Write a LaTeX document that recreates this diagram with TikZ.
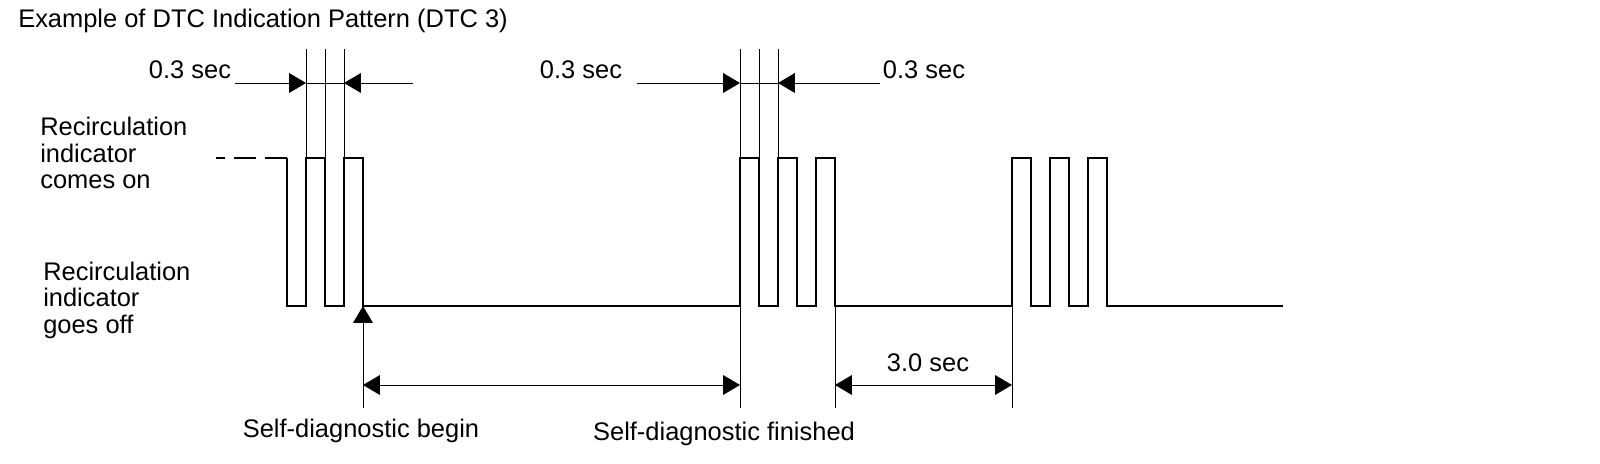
\documentclass[tikz,border=0pt]{standalone}
\usepackage{fontspec}
\setmainfont{Liberation Sans}
\usetikzlibrary{arrows.meta, positioning, calc}

\begin{document}
\begin{tikzpicture}[
		x=0.025cm, y=-0.025cm,
		every node/.style={font=\fontsize{18.1}{18.9}\selectfont, inner sep=0pt},
		lbl/.style={align=left, anchor=west},
		wave/.style={line width=1.4pt},
		guide/.style={line width=0.7pt},
		dim/.style={line width=0.7pt, -{Triangle[length=12pt,width=14pt]}},
		dimboth/.style={line width=0.7pt, {Triangle[length=12pt,width=14pt]}-{Triangle[length=12pt,width=14pt]}}
	]
	\useasboundingbox (0,0) rectangle (1600,464);

	% texts
	\node[anchor=west] (title) at (18,21) {Example of DTC Indication Pattern (DTC 3)};
	\node (sec1) at (190,70) {0.3 sec};
	\node (sec2) at (581,70) {0.3 sec};
	\node (sec3) at (924,70) {0.3 sec};
	\node[lbl] (on) at (40,153) {Recirculation\\indicator\\comes on};
	\node[lbl] (off) at (43,300) {Recirculation\\indicator\\goes off};
	\node (begin) at (361,431) {Self-diagnostic begin};
	\node (finish) at (724,434) {Self-diagnostic finished};
	\node (wait) at (928,363) {3.0 sec};

	% signal
	\coordinate (dashA) at (216,158);
	\coordinate (dashB) at (287,158);
	\draw[wave, dash pattern=on 16pt off 6pt] (dashB) -- (dashA);
	\draw[wave] (dashB)
		\foreach \x/\y in {306/306,325/158,344/306,363/158,
			740/306,759/158,778/306,797/158,816/306,835/158,
			1012/306,1031/158,1050/306,1069/158,1088/306,1107/158,1283/306}
			{ |- (\x,\y) };

	% guide lines
	\foreach \n/\x in {a/306,b/325,c/344,d/740,e/759,f/778} {
		\coordinate (top\n) at (\x,49);
		\coordinate (hi\n) at (\x,158);
		\coordinate (dim\n) at (\x,83);
		\draw[guide] (top\n) -- (hi\n);
	}
	\foreach \n/\x in {d/740,g/363,h/835,i/1012} {
		\coordinate (lo\n) at (\x,306);
		\coordinate (bot\n) at (\x,408);
		\coordinate (span\n) at (\x,385);
	}
	\draw[guide] (lod) -- (botd);
	\draw[guide] (loh) -- (both);
	\draw[guide] (loi) -- (boti);
	\draw[dim] (botg) -- (log);

	% 0.3 sec marks
	\coordinate (leftA) at (235,83);
	\coordinate (rightA) at (413,83);
	\coordinate (leftB) at (637,83);
	\coordinate (rightB) at (880,83);
	\draw[dim] (leftA) -- (dima);
	\draw[guide] (dima) -- (dimc);
	\draw[dim] (rightA) -- (dimc);
	\draw[dim] (leftB) -- (dimd);
	\draw[guide] (dimd) -- (dimf);
	\draw[dim] (rightB) -- (dimf);

	% spans
	\draw[dimboth] (spang) -- (spand);
	\draw[dimboth] (spanh) -- (spani);
\end{tikzpicture}
\end{document}
